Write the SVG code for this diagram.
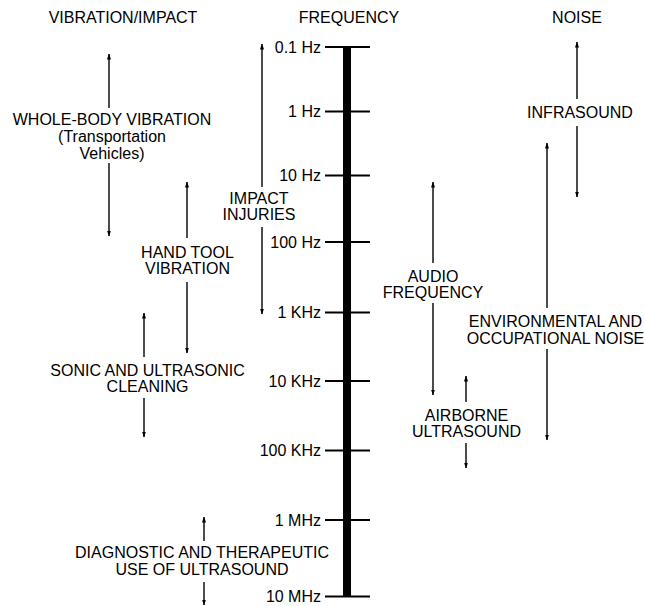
<svg xmlns="http://www.w3.org/2000/svg" width="645" height="606" viewBox="0 0 645 606">
<style>
text{font-family:"Liberation Sans",Arial,sans-serif;font-size:16px;fill:#000}
.c{text-anchor:middle}
.e{text-anchor:end}
.tick{stroke:#000;stroke-width:2}
.arr{stroke:#000;stroke-width:1.4;fill:none;marker-end:url(#ah)}
</style>
<defs>
<marker id="ah" viewBox="0 0 6 4" refX="5.5" refY="2" markerWidth="6" markerHeight="4" orient="auto" markerUnits="userSpaceOnUse">
<path d="M0,0 L6,2 L0,4 z" fill="#000"/>
</marker>
</defs>
<rect width="645" height="606" fill="#fff"/>
<g id="titles">
<text class="c" x="123" y="23">VIBRATION/IMPACT</text>
<text class="c" x="349" y="23">FREQUENCY</text>
<text class="c" x="577" y="23">NOISE</text>
</g>
<g id="axis">
<rect x="343" y="47" width="8" height="549.5" fill="#000"/>
<line class="tick" x1="325" y1="47" x2="370" y2="47"/>
<line class="tick" x1="325" y1="111.5" x2="370" y2="111.5"/>
<line class="tick" x1="325" y1="175.5" x2="370" y2="175.5"/>
<line class="tick" x1="325" y1="242" x2="370" y2="242"/>
<line class="tick" x1="325" y1="312.5" x2="370" y2="312.5"/>
<line class="tick" x1="325" y1="381" x2="370" y2="381"/>
<line class="tick" x1="325" y1="450.5" x2="370" y2="450.5"/>
<line class="tick" x1="325" y1="520" x2="370" y2="520"/>
<line class="tick" x1="325" y1="596.5" x2="370" y2="596.5"/>
<text class="e" x="321" y="52.5">0.1 Hz</text>
<text class="e" x="321" y="117">1 Hz</text>
<text class="e" x="321" y="181">10 Hz</text>
<text class="e" x="321" y="247.5">100 Hz</text>
<text class="e" x="321" y="318">1 KHz</text>
<text class="e" x="321" y="386.5">10 KHz</text>
<text class="e" x="321" y="456">100 KHz</text>
<text class="e" x="321" y="525.5">1 MHz</text>
<text class="e" x="321" y="602">10 MHz</text>
</g>
<g id="connectors">
<path class="arr" d="M109,108 V54"/>
<path class="arr" d="M109,163 V236"/>
<path class="arr" d="M187,238 V182"/>
<path class="arr" d="M187,282 V353"/>
<path class="arr" d="M262,187 V44"/>
<path class="arr" d="M262,227 V314"/>
<path class="arr" d="M144,357 V313"/>
<path class="arr" d="M144,398 V437"/>
<path class="arr" d="M204,541 V517"/>
<path class="arr" d="M204,582 V605"/>
<path class="arr" d="M433,263 V182"/>
<path class="arr" d="M433,303 V395"/>
<path class="arr" d="M577,99 V42"/>
<path class="arr" d="M577,126 V197"/>
<path class="arr" d="M547,308 V143"/>
<path class="arr" d="M547,349 V440"/>
<path class="arr" d="M466,402 V376"/>
<path class="arr" d="M466,443 V468"/>
</g>
<g id="whole-body">
<text class="c" x="112" y="125">WHOLE-BODY VIBRATION</text>
<text class="c" x="112" y="142">(Transportation</text>
<text class="c" x="112" y="159">Vehicles)</text>
</g>
<g id="hand-tool">
<text class="c" x="187.5" y="258">HAND TOOL</text>
<text class="c" x="187.5" y="274">VIBRATION</text>
</g>
<g id="impact">
<text class="c" x="259" y="204">IMPACT</text>
<text class="c" x="259" y="220">INJURIES</text>
</g>
<g id="cleaning">
<text class="c" x="147.5" y="376">SONIC AND ULTRASONIC</text>
<text class="c" x="147.5" y="392">CLEANING</text>
</g>
<g id="diagnostic">
<text class="c" x="202" y="558">DIAGNOSTIC AND THERAPEUTIC</text>
<text class="c" x="202" y="575">USE OF ULTRASOUND</text>
</g>
<g id="audio">
<text class="c" x="433" y="282">AUDIO</text>
<text class="c" x="433" y="298">FREQUENCY</text>
</g>
<g id="infrasound">
<text class="c" x="580" y="118">INFRASOUND</text>
</g>
<g id="environmental">
<text class="c" x="555.5" y="327">ENVIRONMENTAL AND</text>
<text class="c" x="555.5" y="344">OCCUPATIONAL NOISE</text>
</g>
<g id="airborne">
<text class="c" x="466.5" y="421">AIRBORNE</text>
<text class="c" x="466.5" y="437">ULTRASOUND</text>
</g>
</svg>
